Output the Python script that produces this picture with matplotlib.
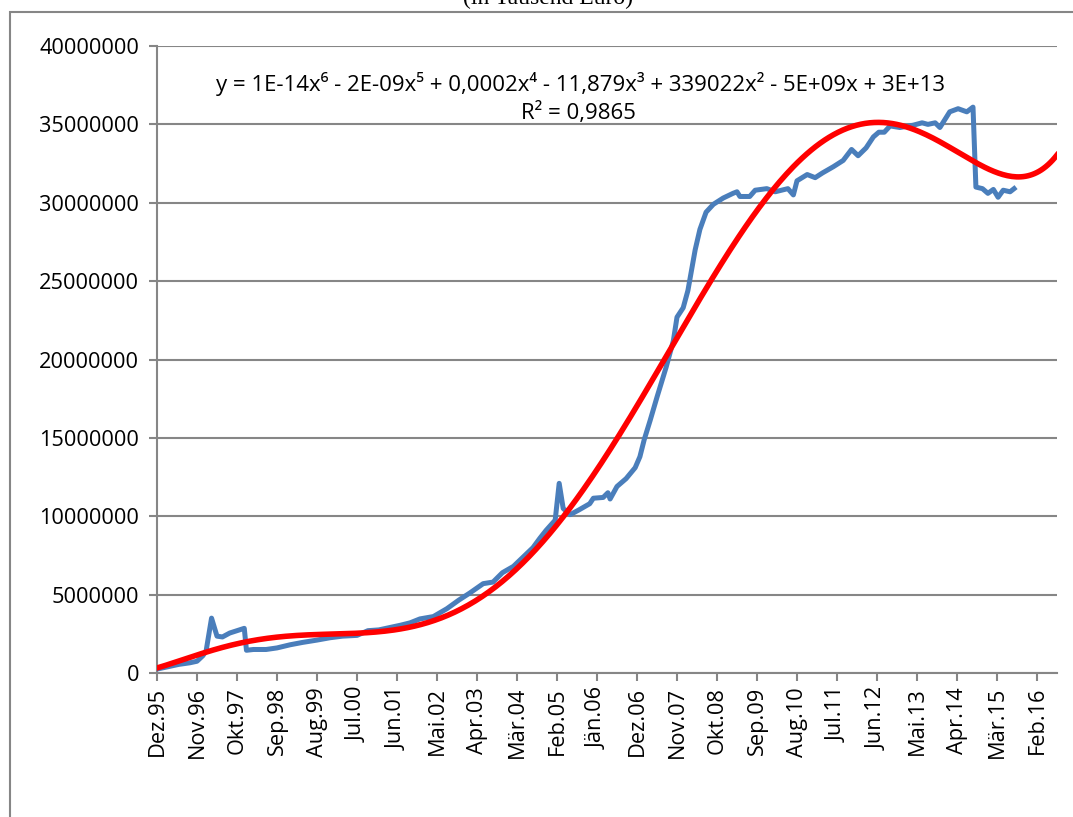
import matplotlib
matplotlib.use('Agg')
import matplotlib.pyplot as plt
import numpy as np
from matplotlib.patches import Rectangle

# Monatsindex ab Dez.95 (0 = Dez.95) und Werte in Mio.
monate = [0, 3, 6, 9, 11, 12.6, 13.5, 15, 16.5, 18, 20, 22, 24, 24.6, 26.5, 30, 33,
          36.6, 40, 44, 47.6, 51, 55, 58, 61, 64, 67, 69.6, 72.3, 76, 79.7, 83, 86,
          89.7, 92.4, 95, 98, 100.7, 103.4, 105.3, 107, 109.5, 110.6, 111.7, 113.6,
          116, 119, 120, 122.7, 124, 124.6, 126.5, 129, 131.5, 132.8, 134, 135.6,
          137.5, 140, 142, 143, 144.7, 146, 147, 148, 149.3, 151, 153, 155.7, 158.4,
          159.5, 160.3, 163, 164.5, 167.7, 170, 173.5, 175, 176, 178.8, 181, 183,
          186, 188.7, 191, 192.8, 195, 197, 198.5, 200, 201.6, 204.3, 208, 210.4,
          212, 214, 215.3, 218, 220.3, 222.7, 224.4, 225.2, 227, 228.5, 230, 231.3,
          232.7, 234.6, 235.7]
werte_mio = [0.25, 0.4, 0.55, 0.65, 0.75, 1.1, 1.4, 3.5, 2.35, 2.3, 2.55, 2.7, 2.85,
             1.45, 1.5, 1.5, 1.6, 1.8, 1.95, 2.1, 2.25, 2.35, 2.4, 2.7, 2.75, 2.9,
             3.05, 3.2, 3.45, 3.6, 4.1, 4.65, 5.1, 5.7, 5.8, 6.4, 6.8, 7.4, 8.0, 8.6,
             9.1, 9.75, 12.1, 10.5, 10.1, 10.4, 10.8, 11.15, 11.2, 11.5, 11.1, 11.9,
             12.4, 13.1, 13.8, 14.9, 16.1, 17.6, 19.5, 21.2, 22.7, 23.3, 24.4, 25.7,
             27.0, 28.3, 29.4, 29.9, 30.3, 30.6, 30.7, 30.4, 30.4, 30.8, 30.9, 30.7,
             30.9, 30.5, 31.4, 31.8, 31.6, 31.9, 32.3, 32.7, 33.4, 33.0, 33.5, 34.2,
             34.5, 34.5, 34.9, 34.8, 34.95, 35.1, 35.0, 35.1, 34.8, 35.8, 36.0, 35.8,
             36.1, 31.0, 30.9, 30.6, 30.85, 30.35, 30.8, 30.7, 30.9]

tick_labels = ['Dez.95', 'Nov.96', 'Okt.97', 'Sep.98', 'Aug.99', 'Jul.00', 'Jun.01',
               'Mai.02', 'Apr.03', 'Mär.04', 'Feb.05', 'Jän.06', 'Dez.06', 'Nov.07',
               'Okt.08', 'Sep.09', 'Aug.10', 'Jul.11', 'Jun.12', 'Mai.13', 'Apr.14',
               'Mär.15', 'Feb.16']

gleichung = 'y = 1E-14x⁶ - 2E-09x⁵ + 0,0002x⁴ - 11,879x³ + 339022x² - 5E+09x + 3E+13'
r2_text = 'R² = 0,9865'

plt.rcParams['font.family'] = ['Open Sans', 'DejaVu Sans']

x = np.array(monate)
y = np.array(werte_mio) * 1e6

# Polynomtrend 6. Ordnung (wie Excel-Trendlinie, auf Monatsbasis)
xm = np.arange(0, int(x[-1]) + 1)
trend = np.polynomial.Polynomial.fit(xm, np.interp(xm, x, y), 6)
xt = np.linspace(0, 247.5, 400)

fig = plt.figure(figsize=(10.73, 8.17), dpi=100)
ax = fig.add_axes([157 / 1073, 1 - 673 / 817, 900 / 1073, 627 / 817])

ax.plot(x, y, color='#4A7EBB', lw=3.6, solid_joinstyle='round', zorder=3)
ax.plot(xt, trend(xt), color='#FF0000', lw=4, zorder=4)

ax.set_xlim(0, 247.5)
ax.set_ylim(0, 40000000)
ax.set_yticks(np.arange(0, 40000001, 5000000))
ax.set_yticklabels([str(v) for v in range(0, 40000001, 5000000)])
ax.set_xticks(np.arange(len(tick_labels)) * 11)
ax.set_xticklabels(tick_labels, rotation=90)

ax.grid(axis='y', color='#868686', lw=1.5)
ax.set_axisbelow(True)
for s in ['top', 'right']:
    ax.spines[s].set_visible(False)
for s in ['left', 'bottom']:
    ax.spines[s].set_color('#868686')
    ax.spines[s].set_linewidth(1.5)
ax.tick_params(axis='both', colors='#868686', length=6, width=1.5, labelsize=15.7,
               labelcolor='black')
ax.tick_params(axis='y', pad=7)
ax.tick_params(axis='x', pad=4)

ax.text(580 / 1073, 1 - 84 / 817, gleichung, transform=fig.transFigure,
        ha='center', va='center', fontsize=16)
ax.text(578 / 1073, 1 - 113 / 817, r2_text, transform=fig.transFigure,
        ha='center', va='center', fontsize=16)

# Rahmen des Diagrammbereichs und abgeschnittener Titel
fig.patches.append(Rectangle((10 / 1073, -0.05), 1.1, 1 - 12 / 817 + 0.05,
                             transform=fig.transFigure, fill=False,
                             edgecolor='#868686', lw=1.5))
fig.text(548 / 1073, 1 - 4 / 817, '(in Tausend Euro)', family='Liberation Serif',
         fontsize=17, ha='center', va='baseline')

fig.savefig('out.png', dpi=100)
